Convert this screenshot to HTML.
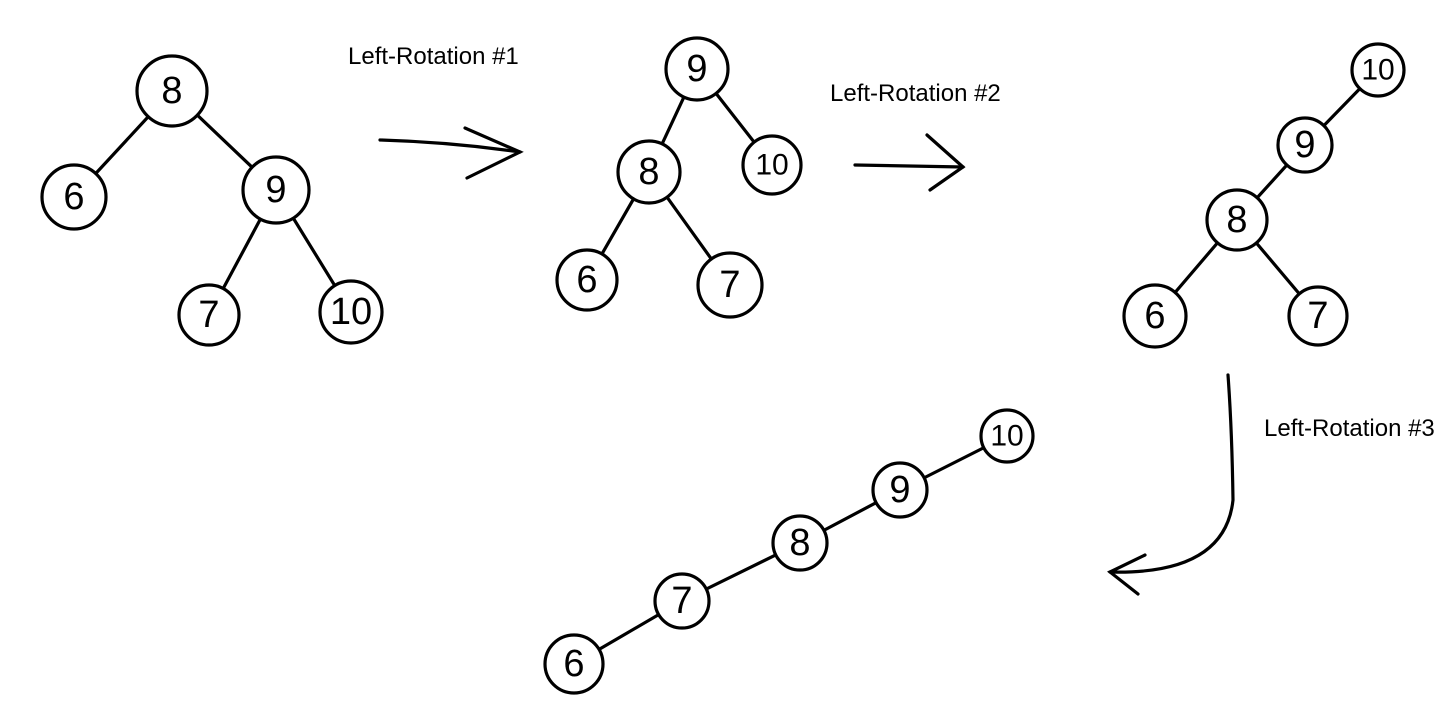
<!DOCTYPE html>
<html><head><meta charset="utf-8"><style>
html,body{margin:0;padding:0;background:#fff;width:1448px;height:710px;overflow:hidden}
svg{display:block}
.n{fill:#fff;stroke:#000;stroke-width:3.2}
.e{stroke:#000;stroke-width:3.2;fill:none;stroke-linecap:round}
.d{font-family:"Liberation Sans",sans-serif;font-size:38px;text-anchor:middle;dominant-baseline:central;fill:#000}
.d2{font-size:30px}
.lbl{font-family:"Liberation Sans",sans-serif;font-size:24px;fill:#000}
</style></head><body>
<svg width="1448" height="710" viewBox="0 0 1448 710">
<g>
<line class="e" x1="172" y1="91" x2="74" y2="197"/>
<line class="e" x1="172" y1="91" x2="276" y2="190"/>
<line class="e" x1="276" y1="190" x2="209" y2="315"/>
<line class="e" x1="276" y1="190" x2="351" y2="312"/>
<g><circle class="n" cx="172" cy="91" r="35"/><text class="d" x="172" y="91">8</text></g>
<g><circle class="n" cx="74" cy="197" r="32"/><text class="d" x="74" y="197">6</text></g>
<g><circle class="n" cx="276" cy="190" r="33"/><text class="d" x="276" y="190">9</text></g>
<g><circle class="n" cx="209" cy="315" r="30"/><text class="d" x="209" y="315">7</text></g>
<g><circle class="n" cx="351" cy="312" r="31"/><text class="d" x="351" y="312">10</text></g>
</g>
<text class="lbl" x="348" y="64">Left-Rotation #1</text>
<g>
<path class="e" d="M380 140 Q450 142 520 152"/>
<path class="e" d="M465 128 L520 152 L467 178"/>
</g>
<g>
<line class="e" x1="697" y1="69" x2="649" y2="172"/>
<line class="e" x1="697" y1="69" x2="772" y2="165"/>
<line class="e" x1="649" y1="172" x2="587" y2="280"/>
<line class="e" x1="649" y1="172" x2="730" y2="285"/>
<g><circle class="n" cx="697" cy="69" r="31"/><text class="d" x="697" y="69">9</text></g>
<g><circle class="n" cx="649" cy="172" r="31"/><text class="d" x="649" y="172">8</text></g>
<g><circle class="n" cx="772" cy="165" r="29"/><text class="d d2" x="772" y="165">10</text></g>
<g><circle class="n" cx="587" cy="280" r="30"/><text class="d" x="587" y="280">6</text></g>
<g><circle class="n" cx="730" cy="285" r="32"/><text class="d" x="730" y="285">7</text></g>
</g>
<text class="lbl" x="830" y="101">Left-Rotation #2</text>
<g>
<path class="e" d="M855 165 L963 167"/>
<path class="e" d="M927 135 L963 167 L930 190"/>
</g>
<g>
<line class="e" x1="1378" y1="70" x2="1305" y2="145"/>
<line class="e" x1="1305" y1="145" x2="1237" y2="220"/>
<line class="e" x1="1237" y1="220" x2="1155" y2="316"/>
<line class="e" x1="1237" y1="220" x2="1318" y2="316"/>
<g><circle class="n" cx="1378" cy="70" r="26"/><text class="d d2" x="1378" y="70">10</text></g>
<g><circle class="n" cx="1305" cy="145" r="27"/><text class="d" x="1305" y="145">9</text></g>
<g><circle class="n" cx="1237" cy="220" r="30"/><text class="d" x="1237" y="220">8</text></g>
<g><circle class="n" cx="1155" cy="316" r="31"/><text class="d" x="1155" y="316">6</text></g>
<g><circle class="n" cx="1318" cy="316" r="29"/><text class="d" x="1318" y="316">7</text></g>
</g>
<text class="lbl" x="1264" y="436">Left-Rotation #3</text>
<g>
<path class="e" d="M1228 375 Q1232 430 1233 500 Q1225 575 1110 572"/>
<path class="e" d="M1145 555 L1110 572 L1138 594"/>
</g>
<g>
<line class="e" x1="1007" y1="436" x2="900" y2="490"/>
<line class="e" x1="900" y1="490" x2="800" y2="543"/>
<line class="e" x1="800" y1="543" x2="682" y2="601"/>
<line class="e" x1="682" y1="601" x2="574" y2="664"/>
<g><circle class="n" cx="1007" cy="436" r="26"/><text class="d d2" x="1007" y="436">10</text></g>
<g><circle class="n" cx="900" cy="490" r="27"/><text class="d" x="900" y="490">9</text></g>
<g><circle class="n" cx="800" cy="543" r="27"/><text class="d" x="800" y="543">8</text></g>
<g><circle class="n" cx="682" cy="601" r="27"/><text class="d" x="682" y="601">7</text></g>
<g><circle class="n" cx="574" cy="664" r="29"/><text class="d" x="574" y="664">6</text></g>
</g>
</svg>
</body></html>
